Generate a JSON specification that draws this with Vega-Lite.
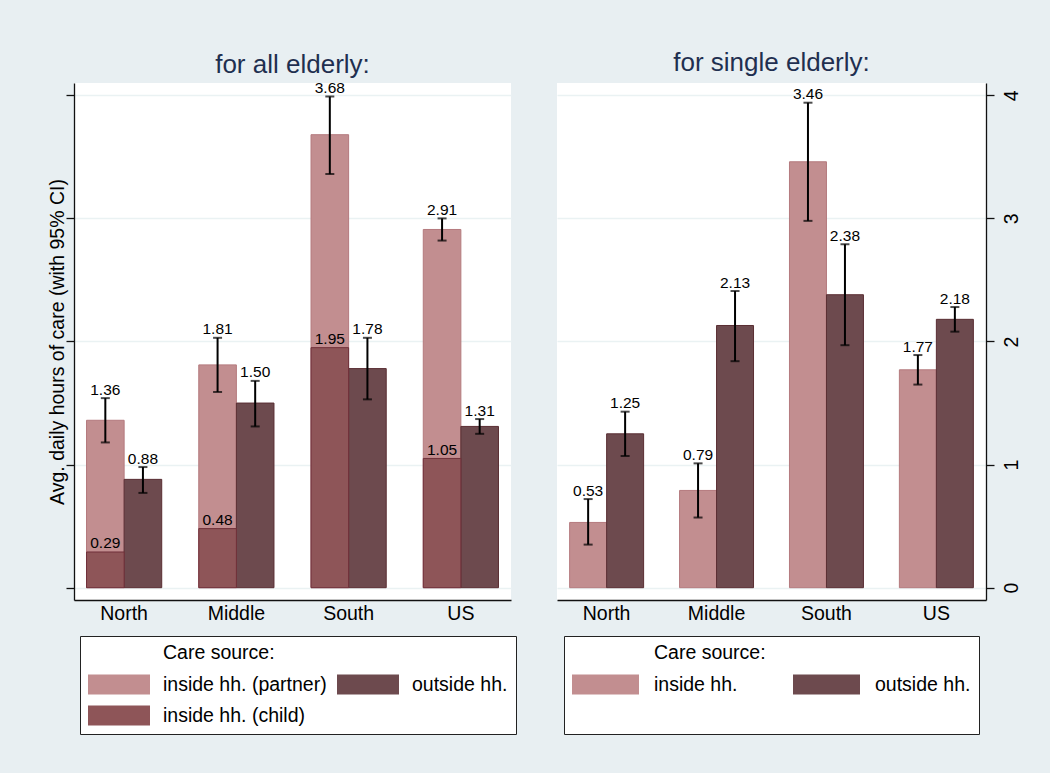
{
  "$schema": "https://vega.github.io/schema/vega-lite/v6.json",
  "background": "#e8eff2",
  "padding": {"left": 47, "top": 50, "right": 29, "bottom": 38},
  "config": {
    "font": "Liberation Sans",
    "view": {"fill": "white", "stroke": null},
    "axis": {
      "labelFont": "Liberation Sans",
      "titleFont": "Liberation Sans",
      "labelColor": "black",
      "titleColor": "black",
      "labelFontSize": 19.5,
      "titleFontSize": 19.5,
      "titleFontWeight": "normal",
      "domainColor": "#111111",
      "domainWidth": 1.3,
      "tickColor": "#111111",
      "tickWidth": 1.3,
      "gridColor": "#eaf2f3",
      "gridWidth": 1.5
    },
    "title": {"font": "Liberation Sans", "fontSize": 26, "fontWeight": "normal", "color": "#1f2f50", "offset": 3, "anchor": "middle", "frame": "group"},
    "legend": {
      "labelFont": "Liberation Sans",
      "titleFont": "Liberation Sans",
      "labelFontSize": 19.5,
      "titleFontSize": 19.5,
      "titleFontWeight": "normal",
      "labelColor": "black",
      "titleColor": "black",
      "fillColor": "white",
      "strokeColor": "#222222",
      "padding": 8,
      "titlePadding": 11,
      "rowPadding": 11,
      "symbolSize": 400,
      "symbolStrokeWidth": 0,
      "symbolOpacity": 1,
      "labelLimit": 400
    }
  },
  "datasets": {
    "all": [
      {"region": "North", "source": "inside hh. (partner)", "hh": "inside", "value": 1.36, "lo": 1.18, "hi": 1.54},
      {"region": "Middle", "source": "inside hh. (partner)", "hh": "inside", "value": 1.81, "lo": 1.59, "hi": 2.03},
      {"region": "South", "source": "inside hh. (partner)", "hh": "inside", "value": 3.68, "lo": 3.36, "hi": 3.99},
      {"region": "US", "source": "inside hh. (partner)", "hh": "inside", "value": 2.91, "lo": 2.82, "hi": 3.0},
      {"region": "North", "source": "outside hh.", "hh": "outside", "value": 0.88, "lo": 0.77, "hi": 0.98},
      {"region": "Middle", "source": "outside hh.", "hh": "outside", "value": 1.5, "lo": 1.31, "hi": 1.68},
      {"region": "South", "source": "outside hh.", "hh": "outside", "value": 1.78, "lo": 1.53, "hi": 2.03},
      {"region": "US", "source": "outside hh.", "hh": "outside", "value": 1.31, "lo": 1.25, "hi": 1.37},
      {"region": "North", "source": "inside hh. (child)", "hh": "inside", "value": 0.29},
      {"region": "Middle", "source": "inside hh. (child)", "hh": "inside", "value": 0.48},
      {"region": "South", "source": "inside hh. (child)", "hh": "inside", "value": 1.95},
      {"region": "US", "source": "inside hh. (child)", "hh": "inside", "value": 1.05}
    ],
    "single": [
      {"region": "North", "source": "inside hh.", "hh": "inside", "value": 0.53, "lo": 0.35, "hi": 0.72},
      {"region": "Middle", "source": "inside hh.", "hh": "inside", "value": 0.79, "lo": 0.57, "hi": 1.01},
      {"region": "South", "source": "inside hh.", "hh": "inside", "value": 3.46, "lo": 2.98, "hi": 3.94},
      {"region": "US", "source": "inside hh.", "hh": "inside", "value": 1.77, "lo": 1.65, "hi": 1.89},
      {"region": "North", "source": "outside hh.", "hh": "outside", "value": 1.25, "lo": 1.07, "hi": 1.43},
      {"region": "Middle", "source": "outside hh.", "hh": "outside", "value": 2.13, "lo": 1.84, "hi": 2.41},
      {"region": "South", "source": "outside hh.", "hh": "outside", "value": 2.38, "lo": 1.97, "hi": 2.79},
      {"region": "US", "source": "outside hh.", "hh": "outside", "value": 2.18, "lo": 2.08, "hi": 2.28}
    ]
  },
  "bounds": "flush",
  "spacing": 46,
  "resolve": {
    "scale": {"fill": "independent", "stroke": "independent", "y": "independent", "x": "independent", "xOffset": "independent"},
    "legend": {"fill": "independent", "stroke": "independent"}
  },
  "hconcat": [
    {
      "width": 437,
      "height": 517,
      "title": "for all elderly:",
      "data": {"name": "all"},
      "encoding": {
        "x": {"field": "region", "type": "nominal", "sort": ["North", "Middle", "South", "US"],
              "scale": {"paddingInner": 0.33, "paddingOuter": 0.1116},
              "axis": {"title": null, "ticks": false, "labelAngle": 0, "labelPadding": 4}},
        "xOffset": {"field": "hh", "type": "nominal", "sort": ["inside", "outside"]}
      },
      "layer": [
        {
          "mark": {"type": "bar", "strokeWidth": 1},
          "encoding": {
            "y": {"field": "value", "type": "quantitative", "stack": null,
                  "title": "Avg. daily hours of care (with 95% CI)",
                  "scale": {"domain": [-0.1, 4.1], "nice": false, "zero": false},
                  "axis": {"orient": "left", "values": [0, 1, 2, 3, 4], "labels": false, "tickSize": 8, "grid": true, "titlePadding": -2}},
            "y2": {"datum": 0},
            "fill": {"field": "source", "type": "nominal",
                     "scale": {"domain": ["inside hh. (partner)", "inside hh. (child)", "outside hh."], "range": ["#c28e90", "#8e5558", "#6d4a4e"]},
                     "legend": {"orient": "none", "legendX": 6, "legendY": 553, "columns": 2, "columnPadding": 10,
                                "title": "Care source:",
                                "symbolType": "M-1,-1H5.2V1H-1Z", "labelOffset": 55,
                                "encode": {"title": {"update": {"dx": {"value": 75}}}}}},
            "stroke": {"field": "source", "type": "nominal",
                       "scale": {"domain": ["inside hh. (partner)", "inside hh. (child)", "outside hh."], "range": ["#b47a7e", "#70303a", "#5a2e33"]},
                       "legend": null}
          }
        },
        {
          "transform": [{"filter": "isValid(datum.hi)"}],
          "mark": {"type": "rule", "color": "black", "strokeWidth": 2},
          "encoding": {
            "y": {"field": "lo", "type": "quantitative", "title": "Avg. daily hours of care (with 95% CI)"},
            "y2": {"field": "hi"}
          }
        },
        {
          "transform": [{"filter": "isValid(datum.hi)"}],
          "mark": {"type": "tick", "orient": "horizontal", "color": "black", "size": 9, "thickness": 2},
          "encoding": {"y": {"field": "lo", "type": "quantitative", "title": "Avg. daily hours of care (with 95% CI)"}}
        },
        {
          "transform": [{"filter": "isValid(datum.hi)"}],
          "mark": {"type": "tick", "orient": "horizontal", "color": "black", "size": 9, "thickness": 2},
          "encoding": {"y": {"field": "hi", "type": "quantitative", "title": "Avg. daily hours of care (with 95% CI)"}}
        },
        {
          "transform": [{"filter": "isValid(datum.hi)"}],
          "mark": {"type": "text", "fontSize": 15.5, "color": "black", "baseline": "alphabetic", "dy": -3.5},
          "encoding": {
            "y": {"field": "hi", "type": "quantitative", "title": "Avg. daily hours of care (with 95% CI)"},
            "text": {"field": "value", "type": "quantitative", "format": ".2f"}
          }
        },
        {
          "transform": [{"filter": "datum.source === 'inside hh. (child)'"}],
          "mark": {"type": "text", "fontSize": 15.5, "color": "black", "baseline": "alphabetic", "dy": -3.5},
          "encoding": {
            "y": {"field": "value", "type": "quantitative", "title": "Avg. daily hours of care (with 95% CI)"},
            "text": {"field": "value", "type": "quantitative", "format": ".2f"}
          }
        }
      ]
    },
    {
      "width": 429,
      "height": 517,
      "title": {"text": "for single elderly:", "offset": 7},
      "data": {"name": "single"},
      "encoding": {
        "x": {"field": "region", "type": "nominal", "sort": ["North", "Middle", "South", "US"],
              "scale": {"paddingInner": 0.327, "paddingOuter": 0.115},
              "axis": {"title": null, "ticks": false, "labelAngle": 0, "labelPadding": 4}},
        "xOffset": {"field": "hh", "type": "nominal", "sort": ["inside", "outside"]}
      },
      "layer": [
        {
          "mark": {"type": "bar", "strokeWidth": 1},
          "encoding": {
            "y": {"field": "value", "type": "quantitative", "stack": null, "title": null,
                  "scale": {"domain": [-0.1, 4.1], "nice": false, "zero": false},
                  "axis": {"orient": "right", "values": [0, 1, 2, 3, 4], "format": "d", "tickSize": 8, "grid": true,
                           "labelAngle": -90, "labelAlign": "center", "labelBaseline": "middle", "labelPadding": 17}},
            "y2": {"datum": 0},
            "fill": {"field": "source", "type": "nominal",
                     "scale": {"domain": ["inside hh.", "", "outside hh."], "range": ["#c28e90", "white", "#6d4a4e"]},
                     "legend": {"orient": "none", "legendX": 7, "legendY": 553, "columns": 2, "columnPadding": 43, "gridAlign": "all",
                                "title": "Care source:",
                                "symbolType": "M-1,-1H5.7V1H-1Z", "labelOffset": 62,
                                "encode": {"title": {"update": {"dx": {"value": 82}}}}}},
            "stroke": {"field": "source", "type": "nominal",
                       "scale": {"domain": ["inside hh.", "outside hh."], "range": ["#b47a7e", "#5a2e33"]},
                       "legend": null}
          }
        },
        {
          "mark": {"type": "rule", "color": "black", "strokeWidth": 2},
          "encoding": {
            "y": {"field": "lo", "type": "quantitative", "title": null},
            "y2": {"field": "hi"}
          }
        },
        {
          "mark": {"type": "tick", "orient": "horizontal", "color": "black", "size": 9, "thickness": 2},
          "encoding": {"y": {"field": "lo", "type": "quantitative", "title": null}}
        },
        {
          "mark": {"type": "tick", "orient": "horizontal", "color": "black", "size": 9, "thickness": 2},
          "encoding": {"y": {"field": "hi", "type": "quantitative", "title": null}}
        },
        {
          "mark": {"type": "text", "fontSize": 15.5, "color": "black", "baseline": "alphabetic", "dy": -3.5},
          "encoding": {
            "y": {"field": "hi", "type": "quantitative", "title": null},
            "text": {"field": "value", "type": "quantitative", "format": ".2f"}
          }
        }
      ]
    }
  ]
}
